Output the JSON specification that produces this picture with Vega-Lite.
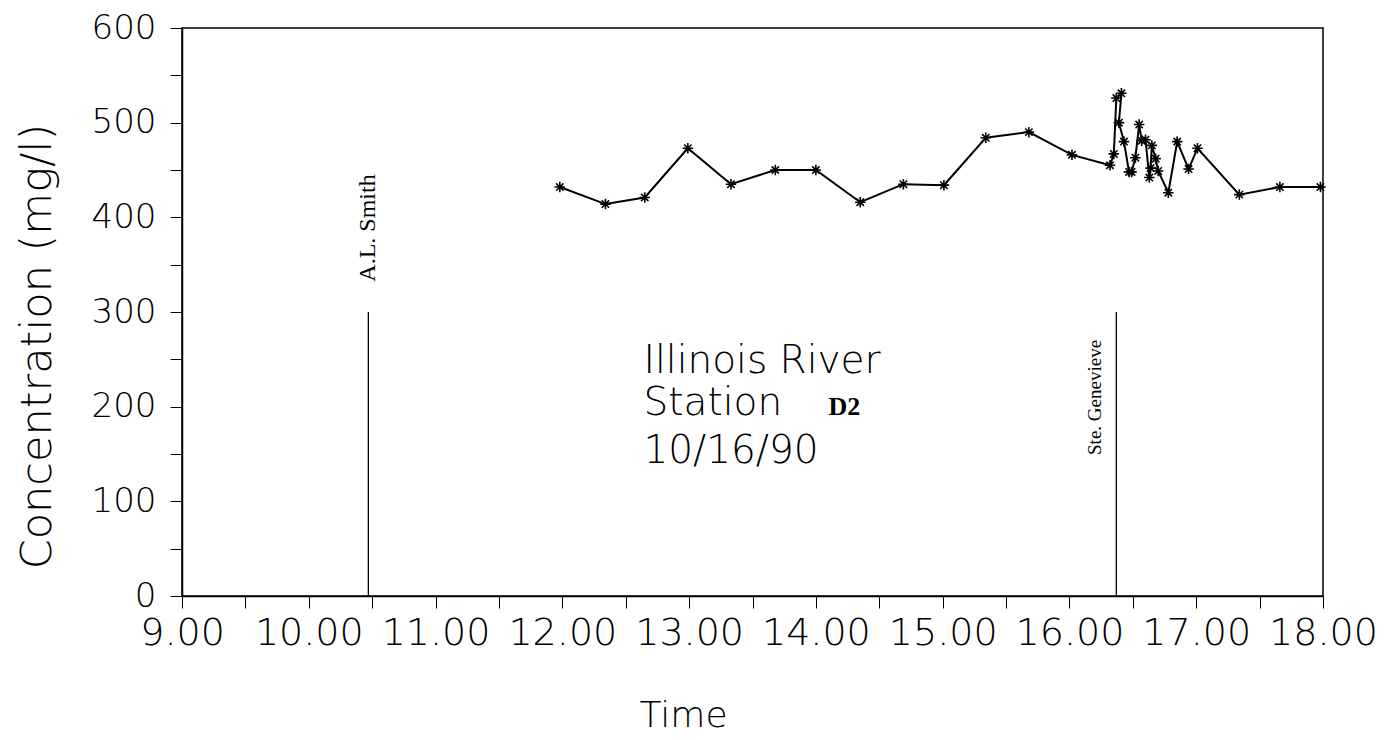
{
  "$schema": "https://vega.github.io/schema/vega-lite/v6.json",
  "width": 1141,
  "height": 568,
  "autosize": "none",
  "padding": {"left": 182, "top": 28, "right": 62, "bottom": 144},
  "background": "white",
  "config": {
    "view": {"stroke": "black", "strokeWidth": 1.5},
    "axis": {"grid": false, "domainColor": "black", "tickColor": "black", "labelColor": "black", "titleColor": "black", "labelFont": "DejaVu Sans", "titleFont": "DejaVu Sans", "labelFontWeight": 200, "titleFontWeight": 200}
  },
  "datasets": {
    "series": [
      {"t": 11.98, "c": 432, "o": 1},
      {"t": 12.34, "c": 414, "o": 2},
      {"t": 12.65, "c": 421, "o": 3},
      {"t": 12.99, "c": 473, "o": 4},
      {"t": 13.33, "c": 435, "o": 5},
      {"t": 13.68, "c": 450, "o": 6},
      {"t": 14.0, "c": 450, "o": 7},
      {"t": 14.35, "c": 416, "o": 8},
      {"t": 14.69, "c": 435, "o": 9},
      {"t": 15.01, "c": 434, "o": 10},
      {"t": 15.34, "c": 484, "o": 11},
      {"t": 15.68, "c": 490, "o": 12},
      {"t": 16.02, "c": 466, "o": 13},
      {"t": 16.32, "c": 455, "o": 14},
      {"t": 16.35, "c": 467, "o": 15},
      {"t": 16.37, "c": 526, "o": 16},
      {"t": 16.41, "c": 531, "o": 17},
      {"t": 16.39, "c": 500, "o": 18},
      {"t": 16.43, "c": 480, "o": 19},
      {"t": 16.47, "c": 448, "o": 20},
      {"t": 16.49, "c": 448, "o": 21},
      {"t": 16.52, "c": 463, "o": 22},
      {"t": 16.55, "c": 498, "o": 23},
      {"t": 16.57, "c": 481, "o": 24},
      {"t": 16.6, "c": 482, "o": 25},
      {"t": 16.63, "c": 442, "o": 26},
      {"t": 16.64, "c": 452, "o": 27},
      {"t": 16.65, "c": 476, "o": 28},
      {"t": 16.68, "c": 462, "o": 29},
      {"t": 16.7, "c": 449, "o": 30},
      {"t": 16.78, "c": 426, "o": 31},
      {"t": 16.85, "c": 480, "o": 32},
      {"t": 16.94, "c": 451, "o": 33},
      {"t": 17.01, "c": 473, "o": 34},
      {"t": 17.34, "c": 424, "o": 35},
      {"t": 17.66, "c": 432, "o": 36},
      {"t": 17.98, "c": 432, "o": 37}
    ],
    "markers": [
      {"t": 10.47, "lo": 0, "hi": 300},
      {"t": 16.37, "lo": 0, "hi": 300}
    ],
    "sitelabels": [
      {"t": 10.47, "c": 332, "label": "A.L. Smith", "w": "bold", "s": 24},
      {"t": 16.2, "c": 149, "label": "Ste. Genevieve", "w": "normal", "s": 19}
    ],
    "notes": [
      {"t": 12.64, "c": 236, "label": "Illinois  River"},
      {"t": 12.64, "c": 191, "label": "Station"},
      {"t": 12.64, "c": 141, "label": "10/16/90"}
    ],
    "d2": [
      {"t": 14.1, "c": 191, "label": "D2"}
    ]
  },
  "layer": [
    {
      "data": {"name": "markers"},
      "mark": {"type": "rule", "color": "black", "strokeWidth": 1.3},
      "encoding": {
        "x": {"field": "t", "type": "quantitative", "scale": {"domain": [9, 18], "nice": false, "zero": false},
          "axis": {"title": "Time", "titleX": 501, "values": [9, 9.5, 10, 10.5, 11, 11.5, 12, 12.5, 13, 13.5, 14, 14.5, 15, 15.5, 16, 16.5, 17, 17.5, 18],
            "labelExpr": "datum.value % 1 == 0 ? format(datum.value, '.2f') : ''", "labelOverlap": false, "labelFlush": false, "labelBound": false, "labelFontSize": 38, "labelPadding": 6,
            "tickSize": 12, "titleFontSize": 36, "titlePadding": 46, "domainWidth": 1.5}},
        "y": {"field": "lo", "type": "quantitative", "scale": {"domain": [0, 600], "nice": false},
          "axis": {"title": "Concentration  (mg/l)", "titleY": 318, "values": [0, 50, 100, 150, 200, 250, 300, 350, 400, 450, 500, 550, 600],
            "labelExpr": "datum.value % 100 == 0 ? datum.value : ''", "labelOverlap": false, "labelFlush": false, "labelFontSize": 34, "labelPadding": 14,
            "tickSize": 12, "titleFontSize": 43, "titlePadding": 32, "domainWidth": 1.5}},
        "y2": {"field": "hi"}
      }
    },
    {
      "data": {"name": "series"},
      "mark": {"type": "line", "color": "black", "strokeWidth": 2},
      "encoding": {
        "x": {"field": "t", "type": "quantitative"},
        "y": {"field": "c", "type": "quantitative"},
        "order": {"field": "o"}
      }
    },
    {
      "data": {"name": "series"},
      "mark": {"type": "point", "shape": "M-1,0L1,0M0,-1L0,1M-0.7,-0.7L0.7,0.7M-0.7,0.7L0.7,-0.7", "filled": false, "stroke": "black", "strokeWidth": 1.6, "size": 110, "opacity": 1},
      "encoding": {
        "x": {"field": "t", "type": "quantitative"},
        "y": {"field": "c", "type": "quantitative"}
      }
    },
    {
      "data": {"name": "sitelabels"},
      "mark": {"type": "text", "angle": 270, "align": "left", "baseline": "middle", "font": "Liberation Serif", "color": "black"},
      "encoding": {
        "x": {"field": "t", "type": "quantitative"},
        "y": {"field": "c", "type": "quantitative"},
        "text": {"field": "label"},
        "fontWeight": {"field": "w", "type": "nominal", "scale": null},
        "size": {"field": "s", "type": "quantitative", "scale": null}
      }
    },
    {
      "data": {"name": "notes"},
      "mark": {"type": "text", "align": "left", "baseline": "alphabetic", "font": "DejaVu Sans", "fontWeight": 200, "fontSize": 39, "color": "black"},
      "encoding": {
        "x": {"field": "t", "type": "quantitative"},
        "y": {"field": "c", "type": "quantitative"},
        "text": {"field": "label"}
      }
    },
    {
      "data": {"name": "d2"},
      "mark": {"type": "text", "align": "left", "baseline": "alphabetic", "font": "Liberation Serif", "fontWeight": "bold", "fontSize": 26, "color": "black"},
      "encoding": {
        "x": {"field": "t", "type": "quantitative"},
        "y": {"field": "c", "type": "quantitative"},
        "text": {"field": "label"}
      }
    }
  ]
}
